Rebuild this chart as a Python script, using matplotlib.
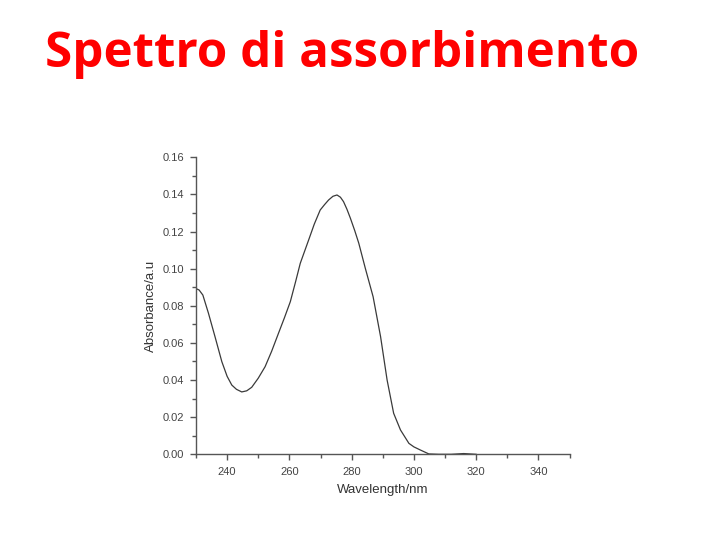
import matplotlib
matplotlib.use("Agg")
import matplotlib.pyplot as plt
from matplotlib.ticker import MultipleLocator

wavelength = [230.0, 231.0, 232.2, 234.0, 236.1, 238.3, 240.0, 241.5, 243.0, 244.7, 246.3, 247.9,
              250.0, 252.2, 254.3, 256.5, 258.4, 260.3, 262.0, 263.5, 266.2, 268.0, 269.9,
              271.3, 272.6, 274.0, 275.3, 276.4, 277.4, 278.5, 279.6, 281.0, 282.3, 284.4,
              286.9, 289.3, 291.4, 293.5, 295.7, 298.4, 300.0, 302.1, 304.8, 308.0, 312.0,
              316.0, 320.0]
absorbance = [0.0893, 0.0885, 0.0858, 0.0760, 0.0634, 0.0499, 0.0420, 0.0373, 0.0350, 0.0336, 0.0342, 0.0361,
              0.0410, 0.0472, 0.0555, 0.0652, 0.0735, 0.0822, 0.0930, 0.1029, 0.1155, 0.1240, 0.1316,
              0.1345, 0.1370, 0.1390, 0.1397, 0.1385, 0.1361, 0.1320, 0.1272, 0.1205, 0.1137, 0.1002,
              0.0849, 0.0634, 0.0400, 0.0221, 0.0131, 0.0059, 0.0040, 0.0023, 0.0002, 0.0000, 0.0000,
              0.0004, 0.0000]

title_text = "Spettro di assorbimento"
x_label = "Wavelength/nm"
y_label = "Absorbance/a.u"

fig = plt.figure(figsize=(7.2, 5.4), dpi=100)
fig.patch.set_facecolor("white")

fig.text(45 / 720, 1 - 67 / 540, title_text, color="#FF0000", fontsize=35.5,
         fontweight="bold", family=["Open Sans", "DejaVu Sans"], ha="left", va="baseline")

ax = fig.add_axes([196 / 720, 1 - 454.3 / 540, (569.5 - 196) / 720, (454.3 - 157.3) / 540])
ax.plot(wavelength, absorbance, color="#3a3a3a", linewidth=0.9)
ax.set_xlim(230, 350)
ax.set_ylim(0, 0.16)

ax.xaxis.set_major_locator(MultipleLocator(20))
ax.xaxis.set_minor_locator(MultipleLocator(10))
ax.yaxis.set_major_locator(MultipleLocator(0.02))
ax.yaxis.set_minor_locator(MultipleLocator(0.01))
ax.yaxis.set_major_formatter(matplotlib.ticker.FormatStrFormatter("%.2f"))

for s in ["top", "right"]:
    ax.spines[s].set_visible(False)
for s in ["left", "bottom"]:
    ax.spines[s].set_color("#555555")
    ax.spines[s].set_linewidth(1.0)

ax.tick_params(which="major", direction="out", length=4.5, width=1.0, color="#555555",
               labelsize=8, labelcolor="#444444")
ax.tick_params(axis="x", which="major", pad=5)
ax.tick_params(axis="y", which="major", pad=4)
ax.tick_params(which="minor", direction="out", length=3, width=1.0, color="#555555")

for lbl in ax.get_xticklabels() + ax.get_yticklabels():
    lbl.set_family(["Liberation Sans", "DejaVu Sans"])

ax.set_xlabel(x_label, fontsize=9.5, color="#333333", family=["Liberation Sans", "DejaVu Sans"], labelpad=5)
ax.set_ylabel(y_label, fontsize=9.5, color="#333333", family=["Liberation Sans", "DejaVu Sans"], labelpad=4)

fig.savefig("out.png", dpi=100, facecolor="white")
